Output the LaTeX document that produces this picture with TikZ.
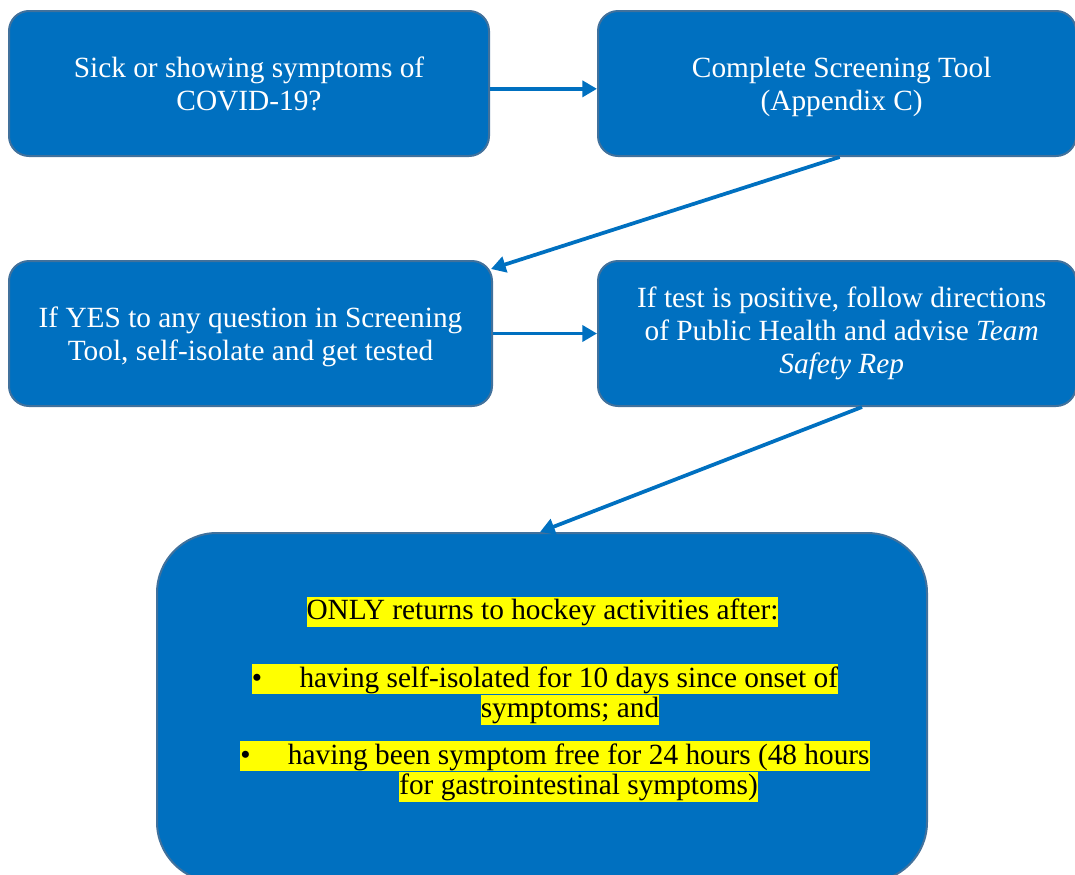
\documentclass[tikz,border=0pt]{standalone}
\usepackage{fontspec}
\setmainfont{Liberation Serif}
\usetikzlibrary{arrows.meta}
\definecolor{boxblue}{RGB}{0,112,192}
\definecolor{boxline}{RGB}{65,113,156}
\definecolor{hilite}{RGB}{255,255,0}
\newcommand{\nodepth}[1]{\raisebox{0pt}[\height][0pt]{#1}}
\tikzset{
  stepbox/.style={draw=boxline, line width=1.5pt, fill=boxblue, rounded corners=15pt, minimum width=360pt, minimum height=108.75pt, text=white, align=center, inner sep=0pt, font=\fontsize{22}{24.75}\selectfont},
  bigbox/.style={draw=boxline, line width=1.5pt, fill=boxblue, rounded corners=45pt, minimum width=577.5pt, minimum height=261.75pt, inner sep=0pt},
  flow/.style={draw=boxblue, line width=2.8pt, -{Triangle[length=11pt,width=12pt]}},
  hl/.style={fill=hilite, inner sep=0pt, text height=17.5pt, text depth=5pt, font=\fontsize{22}{24}\selectfont}
}
\begin{document}
\begin{tikzpicture}[x=0.75pt,y=0.75pt,yscale=-1,xscale=1]
            \clip (0,0) rectangle (1075,875);
            %Shape: Rounded Rect
            \node [stepbox] (sick) at (249,83.5) {Sick or showing symptoms of\\COVID-19?};
            %Shape: Rounded Rect
            \node [stepbox, minimum width=358.5pt] (screen) at (837,83.5) {\hspace{7pt}Complete Screening Tool\\\hspace{7pt}\nodepth{(Appendix C)}};
            %Shape: Rounded Rect
            \node [stepbox, minimum width=362.25pt] (isolate) at (250.5,333.5) {If YES to any question in Screening\\\nodepth{Tool, self-isolate and get tested}};
            %Shape: Rounded Rect
            \node [stepbox, minimum width=358.5pt] (positive) at (837,333.5) {\hspace{7pt}If test is positive, follow directions\\\hspace{7pt}of Public Health and advise \textit{Team}\\\hspace{7pt}\textit{Safety Rep}};
            %Shape: Rounded Rect
            \node [bigbox] (return) at (542,707.5) {};

            %Straight Lines
            \draw [flow] ([yshift=4pt]sick.east) -- ([yshift=4pt]screen.west);
            \draw [flow] ([xshift=2pt]screen.south) -- ([xshift=-1.5pt,yshift=6.75pt]isolate.north east);
            \draw [flow] (isolate.east) -- (positive.west);
            \draw [flow] ([xshift=18.75pt]positive.south) -- ([xshift=-1.5pt]return.north);

            % Text Node
            \node [hl] (after) at (542.5,611.5) {ONLY returns to hockey activities after:};
            % Text Node
            \node [hl] (daysA) at (545,679) {\textbullet\hspace{28pt}having self-isolated for 10 days since onset of};
            \node [hl] (daysB) at (570,709.5) {symptoms; and};
            % Text Node
            \node [hl] (freeA) at (555,756) {\textbullet\hspace{28pt}having been symptom free for 24 hours (48 hours};
            \node [hl] (freeB) at (578.5,786.5) {for gastrointestinal symptoms)};
\end{tikzpicture}
\end{document}
